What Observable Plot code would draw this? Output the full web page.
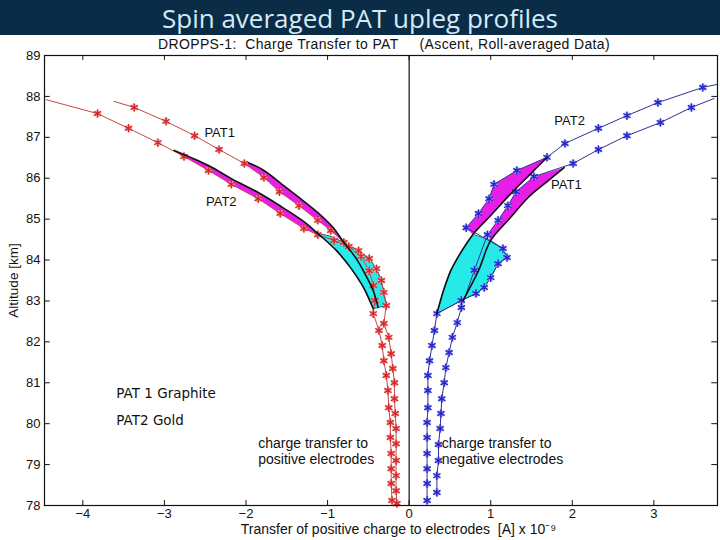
<!DOCTYPE html>
<html><head><meta charset="utf-8">
<script src="https://cdn.jsdelivr.net/npm/d3@7"></script>
<script src="https://cdn.jsdelivr.net/npm/@observablehq/plot@0.6"></script>
<style>
body{margin:0;background:#fff;}
#wrap{position:relative;width:720px;height:540px;overflow:hidden;background:#fff;}
#chart{position:absolute;left:0;top:0;}
#band{position:absolute;left:0;top:0;width:720px;height:35px;background:#0b2c47;}
#title{position:absolute;left:0;top:3px;width:720px;text-align:center;font-family:"Open Sans",sans-serif;font-size:26px;line-height:30px;color:#d4ebf7;white-space:nowrap;}
#sub{position:absolute;left:384px;top:38px;transform:translateX(-50%);font-family:"Liberation Sans",Arial,sans-serif;font-size:14px;line-height:13px;letter-spacing:0.35px;color:#111;white-space:pre;}
</style>
</head><body>
<div id="wrap">
  <div id="chart"></div>
  <div id="band"></div>
  <div id="title">Spin averaged PAT upleg profiles</div>
  <div id="sub">DROPPS-1:  Charge Transfer to PAT     (Ascent, Roll-averaged Data)</div>
</div>
<script>
// axis settings
const xDomain = [-4.47, 3.78];
const yDomain = [78, 89];
const xTicks = [-4, -3, -2, -1, 0, 1, 2, 3];
const yTicks = [78, 79, 80, 81, 82, 83, 84, 85, 86, 87, 88, 89];

// measured series (first point of each = where the line enters, no marker)
const redPat1 = [[-3.62,87.88],[-3.37,87.73],[-2.98,87.39],[-2.63,87.04],[-2.33,86.70],[-2.02,86.36],[-1.78,86.02],[-1.59,85.67],[-1.35,85.33],[-1.12,84.97],[-0.96,84.72],[-0.80,84.43],[-0.62,84.23],[-0.49,84.04],[-0.40,83.79],[-0.34,83.50],[-0.31,83.21],[-0.28,82.89],[-0.31,82.45],[-0.25,82.11],[-0.22,81.71],[-0.20,81.35],[-0.18,81.00],[-0.18,80.61],[-0.17,80.25],[-0.16,79.88],[-0.16,79.51],[-0.16,79.10],[-0.16,78.73],[-0.16,78.36],[-0.15,78.05]];
const redPat2 = [[-4.45,87.92],[-3.82,87.58],[-3.44,87.22],[-3.08,86.87],[-2.76,86.53],[-2.46,86.19],[-2.18,85.85],[-1.85,85.50],[-1.58,85.14],[-1.29,84.77],[-1.12,84.62],[-0.92,84.48],[-0.74,84.33],[-0.59,84.09],[-0.49,83.74],[-0.44,83.38],[-0.42,83.01],[-0.44,82.69],[-0.37,82.28],[-0.33,81.91],[-0.31,81.54],[-0.28,81.18],[-0.26,80.81],[-0.25,80.39],[-0.23,80.03],[-0.23,79.66],[-0.22,79.27],[-0.22,78.90],[-0.22,78.54],[-0.21,78.12]];
const bluePat2 = [[3.77,88.29],[3.60,88.22],[3.05,87.85],[2.67,87.53],[2.32,87.22],[1.91,86.85],[1.69,86.51],[1.32,86.19],[1.04,85.85],[0.98,85.50],[0.85,85.14],[0.70,84.79],[1.15,84.28],[1.20,84.06],[1.09,83.91],[1.00,83.57],[0.92,83.33],[0.82,83.18],[0.64,83.01],[0.34,82.69],[0.31,82.28],[0.28,81.91],[0.25,81.54],[0.23,81.18],[0.23,80.81],[0.23,80.39],[0.22,80.03],[0.22,79.66],[0.22,79.27],[0.22,78.90],[0.22,78.54],[0.22,78.12]];
const bluePat1 = [[3.74,87.95],[3.46,87.73],[3.08,87.36],[2.67,87.04],[2.32,86.70],[2.01,86.36],[1.53,86.04],[1.31,85.67],[1.21,85.33],[1.09,84.97],[0.96,84.62],[0.80,83.75],[0.64,82.84],[0.59,82.47],[0.53,82.11],[0.49,81.74],[0.45,81.37],[0.43,81.00],[0.40,80.61],[0.39,80.25],[0.38,79.88],[0.36,79.49],[0.36,79.10],[0.34,78.73],[0.34,78.32]];

// model curves (black)
const modelL1 = [[-1.97,86.38],[-1.78,86.19],[-1.57,85.87],[-1.35,85.53],[-1.12,85.16],[-0.93,84.79],[-0.80,84.43],[-0.65,84.04],[-0.53,83.62],[-0.44,83.25],[-0.38,82.84]];
const modelL2 = [[-2.88,86.68],[-2.46,86.31],[-2.18,85.99],[-1.85,85.65],[-1.57,85.31],[-1.29,84.94],[-1.12,84.65],[-0.89,84.23],[-0.71,83.79],[-0.56,83.33],[-0.44,82.81]];
const modelR2 = [[1.69,86.51],[1.47,86.07],[1.25,85.63],[1.00,85.09],[0.78,84.62],[0.61,84.11],[0.51,83.74],[0.42,83.25],[0.34,82.69]];
const modelR1 = [[1.90,86.26],[1.68,85.90],[1.46,85.53],[1.23,85.01],[1.00,84.48],[0.85,83.74],[0.66,83.01]];

// shaded regions
const magL1 = [[-1.97,86.38],[-1.78,86.19],[-1.57,85.87],[-1.35,85.53],[-1.12,85.16],[-0.93,84.79],[-0.80,84.43],[-0.96,84.72],[-1.12,84.97],[-1.35,85.33],[-1.59,85.67],[-1.78,86.02],[-2.02,86.36]];
const magL2 = [[-2.88,86.68],[-2.46,86.31],[-2.18,85.99],[-1.85,85.65],[-1.57,85.31],[-1.29,84.94],[-1.12,84.65],[-1.12,84.62],[-1.29,84.77],[-1.58,85.14],[-1.85,85.50],[-2.18,85.85],[-2.46,86.19],[-2.76,86.53]];
const cyanL = [[-1.12,84.65],[-0.89,84.23],[-0.71,83.79],[-0.56,83.33],[-0.44,82.81],[-0.38,82.84],[-0.28,82.89],[-0.31,83.21],[-0.34,83.50],[-0.40,83.79],[-0.49,84.04],[-0.62,84.23],[-0.80,84.43],[-0.96,84.58]];
const magR2 = [[1.69,86.51],[1.47,86.07],[1.25,85.63],[1.00,85.09],[0.78,84.62],[0.70,84.79],[0.85,85.14],[0.98,85.50],[1.04,85.85],[1.32,86.19]];
const magR1 = [[1.90,86.26],[1.68,85.90],[1.46,85.53],[1.23,85.01],[1.00,84.48],[0.96,84.62],[1.09,84.97],[1.21,85.33],[1.31,85.67],[1.53,86.04]];
const cyanR = [[0.78,84.62],[0.61,84.11],[0.51,83.74],[0.42,83.25],[0.34,82.69],[0.64,83.01],[0.82,83.18],[0.92,83.33],[1.00,83.57],[1.09,83.91],[1.20,84.06],[1.15,84.28],[1.00,84.48]];

// labels
const annotations = [
  {x:-2.51, y:87.12, t:"PAT1"},
  {x:-2.49, y:85.43, t:"PAT2"},
  {x:1.78, y:87.41, t:"PAT2"},
  {x:1.74, y:85.85, t:"PAT1"}
];
const notes = [
  {x:-1.85, y:79.51, t:"charge transfer to"},
  {x:-1.85, y:79.12, t:"positive electrodes"},
  {x:0.40, y:79.51, t:"charge transfer to"},
  {x:0.40, y:79.12, t:"negative electrodes"}
];
const overlay = [
  {x:-3.59, y:80.74, t:"PAT 1 Graphite"},
  {x:-3.59, y:80.08, t:"PAT2 Gold"}
];
const xLabel = "Transfer of positive charge to electrodes  [A] x 10\u207B\u2079";
const yLabel = "Altitude [km]";

const RED = "#d42a2a", REDL = "#c44848", REDH = "#f5a3a3";
const BLUE = "#2626cc", BLUEL = "#30309a", BLUEH = "#a0a0f2";
const MAG = "#e81ee8", CYAN = "#26eaea";

const px = d => d[0], py = d => d[1];
const series = (data, line, mark, halo) => [
  Plot.line(data, {x: px, y: py, stroke: line, strokeWidth: 1}),
  Plot.dot(data.slice(1), {x: px, y: py, r: 3.4, fill: halo, stroke: "none", fillOpacity: 0.85}),
  Plot.dot(data.slice(1), {x: px, y: py, r: 4, symbol: "asterisk", stroke: mark, strokeWidth: 1.4})
];
const poly = (data, fill) => Plot.line(data, {x: px, y: py, fill, stroke: "none", curve: "linear-closed"});
const model = data => Plot.line(data, {x: px, y: py, stroke: "#111", strokeWidth: 1.6, curve: "catmull-rom"});

const plot = Plot.plot({
  width: 720, height: 540,
  marginLeft: 44, marginRight: 3, marginTop: 55, marginBottom: 35,
  x: {domain: xDomain, axis: null},
  y: {domain: yDomain, axis: null},
  style: {fontFamily: "'Liberation Sans', Arial, sans-serif", fontSize: "13px", background: "transparent", color: "#111"},
  marks: [
    poly(magL1, MAG), poly(magL2, MAG), poly(cyanL, CYAN),
    poly(magR1, MAG), poly(magR2, MAG), poly(cyanR, CYAN),
    Plot.line(cyanL, {x: px, y: py, stroke: "#1b3d5c", strokeWidth: 0.8, curve: "linear-closed"}),
    Plot.line(cyanR, {x: px, y: py, stroke: "#1b3d5c", strokeWidth: 0.8, curve: "linear-closed"}),
    Plot.ruleX([0], {stroke: "#111", strokeWidth: 1.2}),
    ...series(redPat1, REDL, RED, REDH),
    ...series(redPat2, REDL, RED, REDH),
    ...series(bluePat1, BLUEL, BLUE, BLUEH),
    ...series(bluePat2, BLUEL, BLUE, BLUEH),
    model(modelL1), model(modelL2), model(modelR1), model(modelR2),
    // inward ticks (MATLAB style)
    Plot.ruleX(xTicks, {y1: 78, y2: 78.12, stroke: "#111"}),
    Plot.ruleX(xTicks, {y1: 88.88, y2: 89, stroke: "#111"}),
    Plot.ruleY(yTicks, {x1: xDomain[0], x2: xDomain[0] + 0.07, stroke: "#111"}),
    Plot.ruleY(yTicks, {x1: xDomain[1] - 0.07, x2: xDomain[1], stroke: "#111"}),
    Plot.frame({stroke: "#111", strokeWidth: 1.2}),
    Plot.axisX(xTicks, {anchor: "bottom", tickSize: 0, tickPadding: 3, label: null, fontSize: 13}),
    Plot.axisY(yTicks, {anchor: "left", tickSize: 0, tickPadding: 4, label: null, fontSize: 13}),
    Plot.text([xLabel], {x: -0.13, frameAnchor: "bottom", dy: 28, fontSize: 14, fill: "#111", ariaLabel: "xlabel"}),
    Plot.text([yLabel], {x: -4.85, y: 83.5, rotate: -90, fontSize: 13.5, fill: "#111"}),
    Plot.text(annotations, {x: "x", y: "y", text: "t", textAnchor: "start", fontSize: 13, fill: "#111"}),
    Plot.text(notes, {x: "x", y: "y", text: "t", textAnchor: "start", fontSize: 14, fill: "#111", ariaLabel: "notes"}),
    Plot.text(overlay, {x: "x", y: "y", text: "t", textAnchor: "start", fontSize: 13.5, fill: "#111", fontFamily: "DejaVu Sans"})
  ]
});
d3.select(plot).selectAll("g[aria-label=xlabel] text").style("letter-spacing", "1.3px");
d3.select(plot).selectAll("g[aria-label=notes] text").style("letter-spacing", "0.3px");
document.getElementById("chart").appendChild(plot);
</script>
</body></html>
